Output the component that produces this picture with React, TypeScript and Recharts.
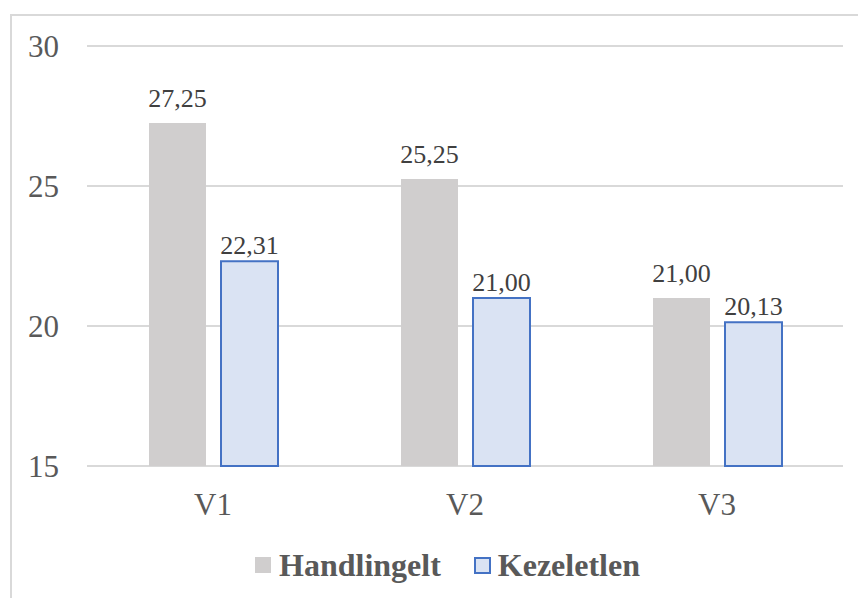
import { BarChart, Bar, XAxis, YAxis, CartesianGrid, LabelList } from 'recharts'

const categories = ['V1', 'V2', 'V3']
const handlingelt = [27.25, 25.25, 21.0]
const kezeletlen = [22.31, 21.0, 20.13]
const yTicks = [15, 20, 25, 30]

const SERIF = 'Liberation Serif'

const data = categories.map((name, i) => ({
  name,
  handlingelt: handlingelt[i],
  kezeletlen: kezeletlen[i]
}))

const fmt = (v: number) => v.toFixed(2).replace('.', ',')

export default function App() {
  return (
    <div
      style={{
        position: 'absolute',
        left: 0,
        top: 0,
        width: 858,
        height: 598,
        overflow: 'hidden',
        background: '#fff',
        fontFamily: SERIF
      }}
    >
      <div
        style={{
          position: 'absolute',
          left: 10,
          top: 14,
          width: 880,
          height: 620,
          border: '2px solid #d9d9d9',
          boxSizing: 'border-box'
        }}
      />
      <div style={{ position: 'absolute', left: 0, top: 0 }}>
        <BarChart
          width={858}
          height={598}
          data={data}
          margin={{ top: 46, right: 15, left: 0, bottom: 72 }}
          barSize={57}
          barGap={15}
          style={{ fontFamily: SERIF }}
        >
          <CartesianGrid vertical={false} stroke="#d9d9d9" strokeWidth={2} />
          <XAxis
            dataKey="name"
            axisLine={false}
            tickLine={false}
            tickSize={0}
            tickMargin={27}
            height={60}
            tick={{ fill: '#595959', fontSize: 31, style: { fontFamily: SERIF } }}
          />
          <YAxis
            domain={[15, 30]}
            ticks={yTicks}
            width={87}
            axisLine={false}
            tickLine={false}
            tickSize={0}
            tickMargin={28}
            tick={{ fill: '#595959', fontSize: 31, style: { fontFamily: SERIF } }}
          />
          <Bar dataKey="handlingelt" fill="#d0cece" isAnimationActive={false}>
            <LabelList
              dataKey="handlingelt"
              position="top"
              offset={16}
              formatter={(v: any) => fmt(Number(v))}
              style={{ fill: '#404040', fontSize: 26, fontFamily: SERIF }}
            />
          </Bar>
          <Bar dataKey="kezeletlen" fill="#dae3f3" stroke="#4472c4" strokeWidth={2} isAnimationActive={false}>
            <LabelList
              dataKey="kezeletlen"
              position="top"
              offset={7}
              formatter={(v: any) => fmt(Number(v))}
              style={{ fill: '#404040', fontSize: 26, fontFamily: SERIF, stroke: 'none' }}
            />
          </Bar>
        </BarChart>
      </div>
      <div
        style={{
          position: 'absolute',
          left: 255,
          top: 545,
          display: 'flex',
          alignItems: 'center',
          fontFamily: SERIF,
          fontWeight: 'bold',
          fontSize: 32,
          color: '#595959',
          lineHeight: '40px'
        }}
      >
        <span style={{ width: 16, height: 16, background: '#d0cece', display: 'inline-block', marginRight: 8 }} />
        <span>Handlingelt</span>
        <span
          style={{
            width: 17,
            height: 17,
            background: '#dae3f3',
            border: '2px solid #4472c4',
            boxSizing: 'border-box',
            display: 'inline-block',
            marginLeft: 33,
            marginRight: 7
          }}
        />
        <span>Kezeletlen</span>
      </div>
    </div>
  )
}
